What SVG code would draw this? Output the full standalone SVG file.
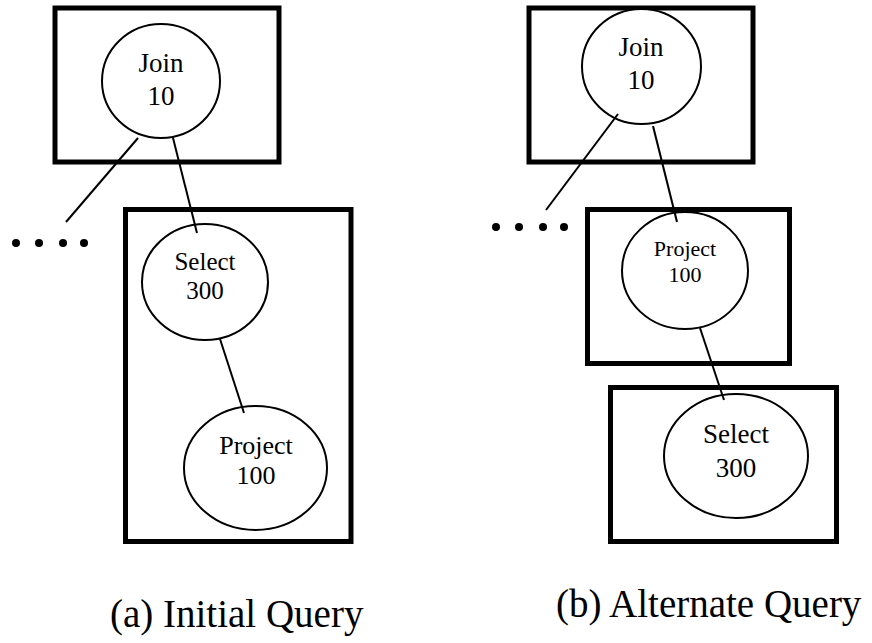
<svg xmlns="http://www.w3.org/2000/svg" width="872" height="643" viewBox="0 0 872 643">
<style>
.box{fill:none;stroke:#000;stroke-width:5}
.op{fill:#fff;stroke:#000;stroke-width:2}
.edge{stroke:#000;stroke-width:2;fill:none}
.dot{fill:#000}
text{font-family:"Liberation Serif","Times New Roman",serif;fill:#000;text-anchor:middle}
.cap{font-size:39px;text-anchor:start}
</style>
<rect width="872" height="643" fill="#fff"/>
<g id="boxes">
<rect id="box-a-top" class="box" x="55" y="8" width="224" height="154"/>
<rect id="box-a-bottom" class="box" x="125.5" y="209.5" width="225.5" height="332"/>
<rect id="box-b-top" class="box" x="529" y="8" width="224" height="154"/>
<rect id="box-b-middle" class="box" x="587.5" y="209.5" width="202" height="154"/>
<rect id="box-b-bottom" class="box" x="610.5" y="387.5" width="226" height="154"/>
</g>
<g id="dots-a">
<circle class="dot" cx="16" cy="243" r="4"/>
<circle class="dot" cx="39" cy="243" r="4"/>
<circle class="dot" cx="63" cy="243" r="4"/>
<circle class="dot" cx="84" cy="243" r="4"/>
</g>
<g id="dots-b">
<circle class="dot" cx="496" cy="227" r="4"/>
<circle class="dot" cx="519" cy="227" r="4"/>
<circle class="dot" cx="543" cy="227" r="4"/>
<circle class="dot" cx="564" cy="227" r="4"/>
</g>
<g id="join-a">
<ellipse class="op" cx="161" cy="81" rx="59" ry="57"/>
<text x="161" y="72" font-size="27">Join</text>
<text x="161" y="105" font-size="27">10</text>
</g>
<g id="select-a">
<ellipse class="op" cx="205" cy="282" rx="63" ry="58"/>
<text x="205" y="270" font-size="25">Select</text>
<text x="205" y="299" font-size="25">300</text>
</g>
<g id="project-a">
<ellipse class="op" cx="255.5" cy="468" rx="71.5" ry="62"/>
<text x="256" y="454" font-size="26">Project</text>
<text x="256" y="484" font-size="26">100</text>
</g>
<g id="join-b">
<ellipse class="op" cx="641.5" cy="66.5" rx="59.5" ry="57.5"/>
<text x="641" y="56" font-size="27">Join</text>
<text x="641" y="89" font-size="27">10</text>
</g>
<g id="project-b">
<ellipse class="op" cx="685" cy="270.5" rx="63" ry="58.5"/>
<text x="685" y="256" font-size="22">Project</text>
<text x="685" y="282" font-size="22">100</text>
</g>
<g id="select-b">
<ellipse class="op" cx="736" cy="456" rx="72" ry="62"/>
<text x="736" y="443" font-size="27">Select</text>
<text x="736" y="477" font-size="27">300</text>
</g>
<g id="connectors">
<line class="edge" x1="138" y1="138" x2="66" y2="222"/>
<line class="edge" x1="173" y1="138" x2="197" y2="233"/>
<line class="edge" x1="220" y1="339" x2="244" y2="413"/>
<line class="edge" x1="618" y1="114" x2="546" y2="210"/>
<line class="edge" x1="653" y1="126" x2="677" y2="222"/>
<line class="edge" x1="700" y1="328" x2="724" y2="400"/>
</g>
<g id="captions">
<text class="cap" x="110" y="627">(a) Initial Query</text>
<text class="cap" x="556" y="617">(b) Alternate Query</text>
</g>
</svg>
